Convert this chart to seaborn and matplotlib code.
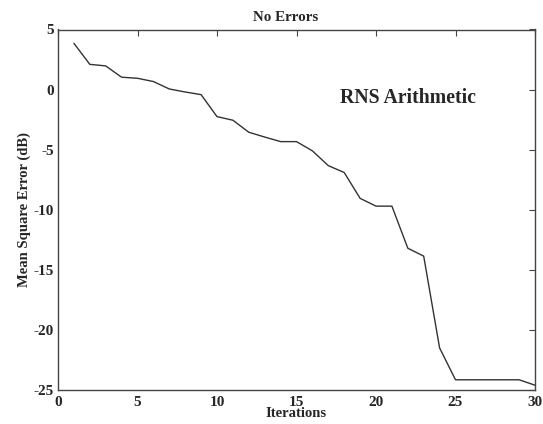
import matplotlib
matplotlib.use("Agg")
import matplotlib.pyplot as plt
import seaborn as sns
import pandas as pd

iterations = list(range(1, 31))
mse_db = [3.85, 2.1, 1.97, 1.03, 0.94, 0.67, 0.05, -0.2, -0.42, -2.25,
          -2.55, -3.55, -3.95, -4.33, -4.33, -5.1, -6.33, -6.9, -9.05, -9.7,
          -9.7, -13.2, -13.86, -21.5, -24.15, -24.15, -24.15, -24.15, -24.15, -24.6]
x_ticks = [0, 5, 10, 15, 20, 25, 30]
y_ticks = [-25, -20, -15, -10, -5, 0, 5]

df = pd.DataFrame({"Iterations": iterations, "MSE": mse_db})

sns.set_style("white")
plt.rcParams['font.family'] = ['Liberation Serif', 'DejaVu Serif']
plt.rcParams['font.weight'] = 'bold'

fig = plt.figure(figsize=(5.43, 4.24), dpi=100)
ax = fig.add_axes([58/543, 1 - 390/424, (535-58)/543, (390-29.5)/424])

sns.lineplot(data=df, x="Iterations", y="MSE", ax=ax, color="#333333", linewidth=1.0)

ax.set_xlim(0, 30)
ax.set_ylim(-25, 5)
ax.set_xticks(x_ticks)
ax.set_yticks(y_ticks)
ax.set_xticklabels([str(t) for t in x_ticks], fontsize=11, fontweight='bold')
ax.set_yticklabels([str(t) for t in y_ticks], fontsize=11, fontweight='bold')
ax.tick_params(direction='in', top=True, right=True, length=4, width=0.8, color="#444444", pad=3)
ax.tick_params(axis='x', pad=4)
for s in ax.spines.values():
    s.set_color("#444444")
    s.set_linewidth(1.0)

ax.set_xlabel("Iterations", fontsize=10.5, fontweight='bold', labelpad=-1)
ax.set_ylabel("Mean Square Error (dB)", fontsize=10.5, fontweight='bold', labelpad=2)
ax.set_title("No Errors", fontsize=10.8, fontweight='bold', pad=6, x=0.478)
ax.text(22.0, -0.73, "RNS Arithmetic", fontsize=14.2, fontweight='bold', ha='center', va='center')

fig.savefig("out.png", dpi=100)
